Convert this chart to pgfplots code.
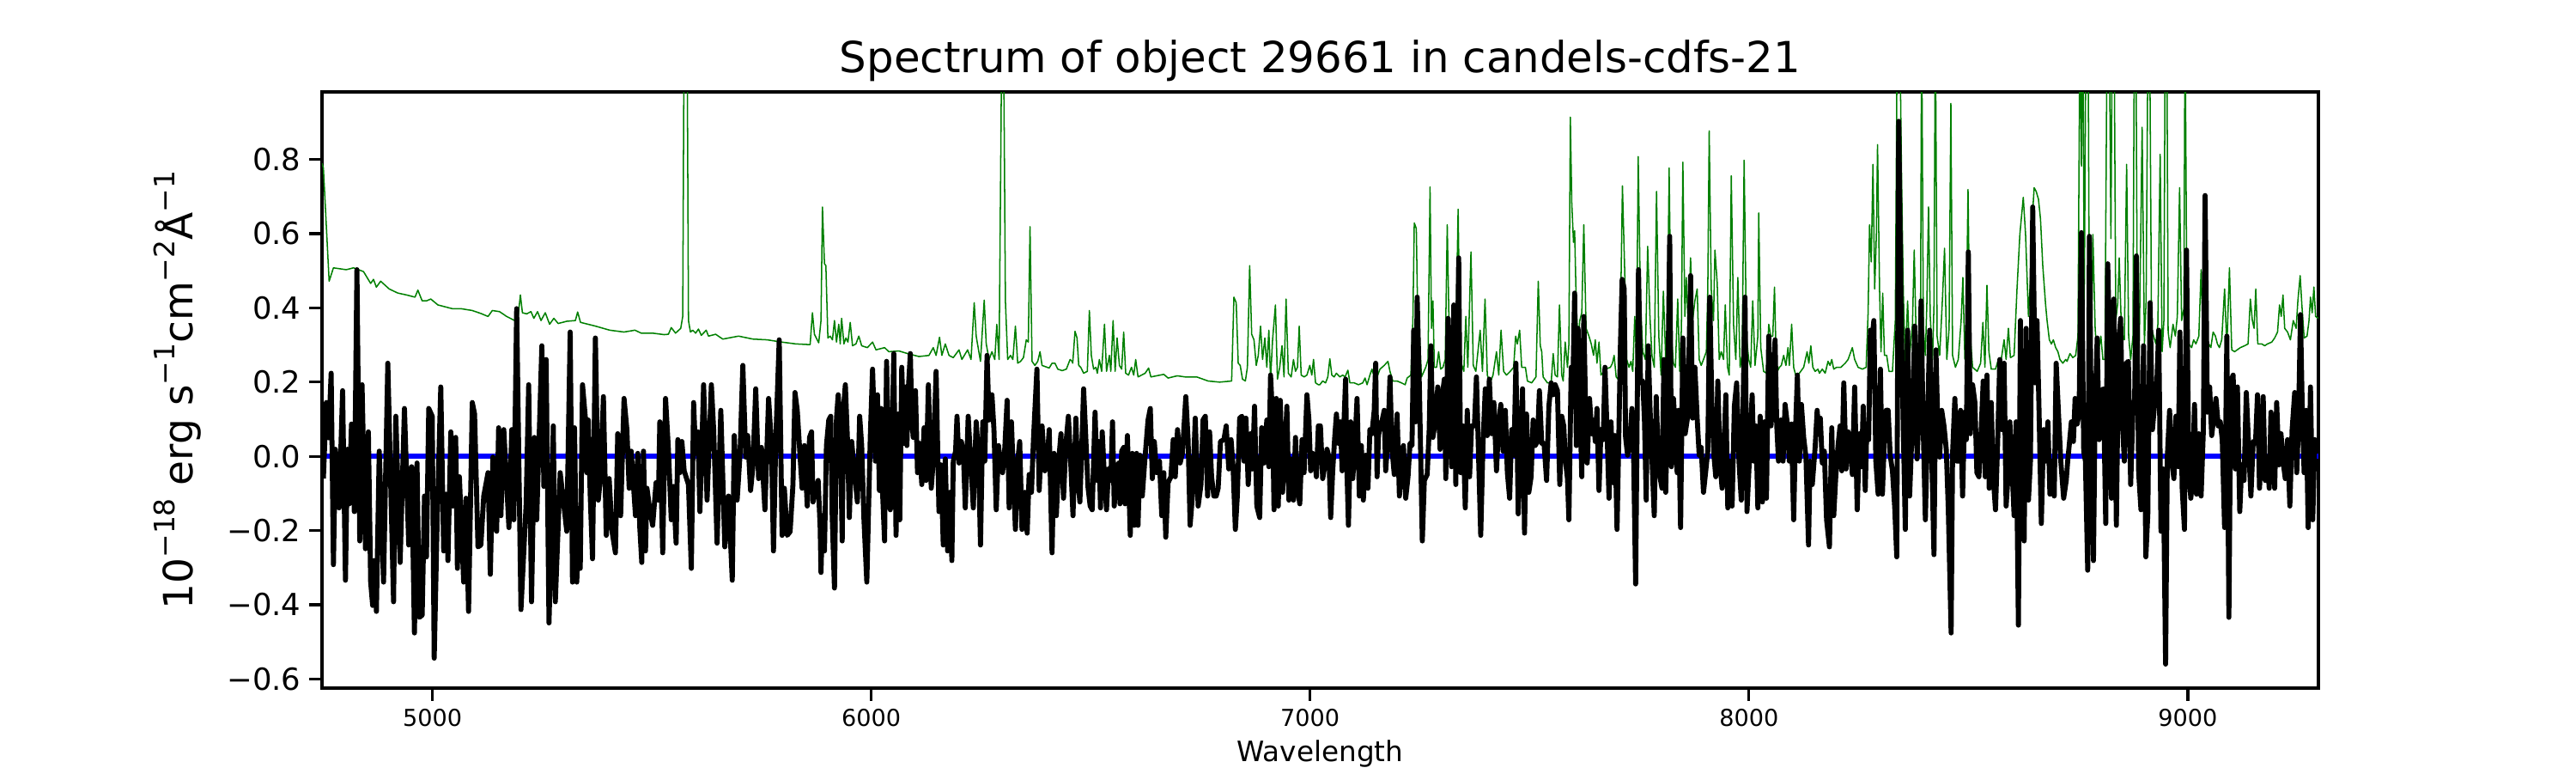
\documentclass[border=0pt]{standalone}
\usepackage{pgfplots}
\pgfplotsset{compat=1.18}
\usepackage{fontspec}
\setmainfont{DejaVu Sans}
\definecolor{mplgreen}{rgb}{0,0.5,0}
\newcommand{\sups}[1]{\raisebox{0.45em}{\fontsize{11.9}{12}\selectfont #1}}
\begin{document}
\begin{tikzpicture}
\useasboundingbox (-135.5pt,-35.8pt) rectangle (948.55pt,289.5pt);
\begin{axis}[
  at={(0,0)}, anchor=south west,
  scale only axis, width=840.1pt, height=250.8pt,
  xmin=4748.5, xmax=9297.5, ymin=-0.625, ymax=0.982,
  axis line style={line width=1.2pt},
  tick style={line width=1.2pt, black},
  major tick length=5.3pt, tick align=outside,
  xtick pos=bottom, ytick pos=left,
  xtick={5000,6000,7000,8000,9000},
  xticklabels={5000,6000,7000,8000,9000},
  ytick={-0.6,-0.4,-0.2,0,0.2,0.4,0.6,0.8},
  yticklabels={−0.6,−0.4,−0.2,0.0,0.2,0.4,0.6,0.8},
  xticklabel style={font=\fontsize{9.8}{11}\selectfont},
  yticklabel style={font=\fontsize{12.8}{14}\selectfont},
  title={Spectrum of object 29661 in candels-cdfs-21},
  every axis title/.style={at={(axis description cs:0.5,1)}, anchor=base, yshift=8.3pt, font=\fontsize{18}{21}\selectfont},
  xlabel={Wavelength},
  every axis x label/.style={at={(axis description cs:0.5,0)}, anchor=base, yshift=-31pt, font=\fontsize{11.8}{13}\selectfont},
  ylabel={10\sups{−18} erg s\sups{−1}cm\sups{−2}Å\sups{−1}},
  every axis y label/.style={at={(axis description cs:0,0.5)}, xshift=-60.7pt, rotate=90, anchor=center, font=\fontsize{17}{19}\selectfont},
]
\addplot[mplgreen, line width=0.55pt, line join=round] coordinates {
(4748.6,0.790)(4751.7,0.777)(4764.8,0.472)(4774.6,0.508)(4803.9,0.503)(4820.2,0.508)(4843.1,0.498)(4859.4,0.466)(4865.9,0.477)(4872.4,0.456)(4882.2,0.472)(4901.8,0.451)(4921.4,0.440)(4941.0,0.435)(4960.5,0.429)(4967.0,0.448)(4976.8,0.419)(4986.6,0.419)(4996.4,0.424)(5012.7,0.408)(5045.3,0.398)(5064.9,0.398)(5091.0,0.393)(5110.6,0.385)(5126.9,0.377)(5136.7,0.393)(5153.0,0.390)(5169.3,0.377)(5187.6,0.366)(5195.4,0.377)(5200.6,0.435)(5205.2,0.387)(5215.0,0.384)(5224.7,0.390)(5231.3,0.372)(5239.7,0.390)(5247.6,0.366)(5257.3,0.387)(5267.2,0.356)(5276.9,0.372)(5286.7,0.358)(5306.3,0.364)(5325.9,0.366)
(5331.1,0.389)(5337.6,0.361)(5371.5,0.351)(5404.2,0.340)(5436.8,0.335)(5461.6,0.340)(5475.9,0.332)(5502.0,0.332)(5528.1,0.328)(5537.9,0.329)(5544.4,0.347)(5554.2,0.332)(5566.0,0.345)(5570.5,0.377)(5573.8,1.2)(5580.3,1.2)(5583.6,0.366)(5588.1,0.335)(5593.4,0.340)(5599.9,0.332)(5606.4,0.343)(5612.9,0.326)(5624.0,0.340)(5629.2,0.324)(5645.5,0.329)(5661.9,0.316)(5697.7,0.324)(5730.4,0.316)(5763.0,0.314)(5795.6,0.308)(5828.2,0.303)(5860.8,0.301)(5866.1,0.387)(5870.6,0.329)(5880.4,0.306)(5885.6,0.366)(5888.9,0.672)
(5893.5,0.519)(5896.7,0.514)(5901.3,0.319)(5906.5,0.324)(5911.7,0.314)(5916.3,0.366)(5920.9,0.308)(5926.1,0.356)(5929.4,0.303)(5932.6,0.372)(5937.8,0.303)(5942.4,0.319)(5947.0,0.308)(5952.2,0.361)(5957.4,0.298)(5965.2,0.303)(5971.8,0.324)(5978.3,0.298)(5991.3,0.293)(6003.1,0.308)(6010.9,0.287)(6030.5,0.293)(6040.3,0.282)(6063.1,0.284)(6082.7,0.277)(6108.8,0.269)(6131.6,0.272)(6141.4,0.293)(6147.9,0.272)(6155.7,0.321)(6161.0,0.272)(6168.8,0.303)(6177.3,0.272)(6187.0,0.266)(6200.1,0.287)(6206.6,0.261)(6219.7,0.287)(6227.5,0.261)(6234.7,0.414)(6239.2,0.324)(6249.0,0.256)(6257.5,0.421)(6262.1,0.303)(6268.6,0.261)(6275.1,0.282)(6281.6,0.261)(6286.2,0.356)(6291.4,0.261)(6298.0,1.2)(6301.2,1.2)(6305.8,0.419)(6311.0,0.261)(6317.5,0.272)(6322.8,0.261)(6328.6,0.351)(6333.8,0.251)(6340.4,0.256)(6346.9,0.266)(6353.4,0.314)(6358.0,0.308)(6361.9,0.619)(6366.5,0.256)(6373.0,0.245)(6379.5,0.256)(6384.7,0.282)(6389.3,0.245)(6405.6,0.238)(6412.1,0.251)(6418.7,0.251)(6425.2,0.235)(6435.0,0.231)(6444.7,0.235)(6453.2,0.261)(6457.8,0.256)
(6459.2,0.251)(6464.4,0.337)(6469.0,0.319)(6472.9,0.245)(6477.5,0.240)(6484.0,0.224)(6492.5,0.229)(6497.1,0.393)(6501.6,0.272)(6506.8,0.235)(6512.1,0.240)(6515.3,0.224)(6519.9,0.261)(6525.1,0.229)(6531.6,0.356)(6536.2,0.229)(6542.7,0.272)(6546.0,0.229)(6551.2,0.366)(6555.8,0.229)(6560.3,0.319)(6565.6,0.245)(6570.8,0.235)(6575.3,0.335)(6579.9,0.224)(6586.4,0.219)(6593.0,0.240)(6598.2,0.219)(6602.7,0.261)(6608.0,0.214)(6624.3,0.224)(6632.1,0.238)(6637.3,0.214)(6666.7,0.221)(6676.5,0.211)(6697.3,0.217)(6715.6,0.214)(6741.7,0.214)(6767.8,0.203)(6793.9,0.200)(6821.3,0.203)(6826.5,0.429)(6831.7,0.414)(6836.3,0.251)(6840.9,0.245)(6846.1,0.208)(6852.6,0.203)(6857.2,0.240)(6862.4,0.514)(6867.0,0.329)(6872.2,0.314)(6877.4,0.245)(6882.0,0.272)(6887.2,0.351)(6891.8,0.261)(6897.0,0.319)(6901.5,0.240)(6906.1,0.340)(6910.0,0.208)(6914.6,0.314)(6921.1,0.408)(6925.7,0.208)(6930.9,0.240)(6936.1,0.298)(6940.7,0.214)(6945.3,0.424)(6950.5,0.224)(6957.0,0.214)(6962.2,0.261)(6966.8,0.229)(6971.3,0.240)(6975.3,0.351)(6979.8,0.219)(6986.4,0.214)(6992.9,0.219)(6999.4,0.245)(7004.0,0.219)(7007.9,0.261)(7012.5,0.198)(7019.0,0.193)
(7022.2,0.193)(7028.8,0.203)(7035.3,0.198)(7040.5,0.214)(7045.1,0.263)(7049.6,0.219)(7054.9,0.214)(7060.1,0.224)(7067.9,0.214)(7074.4,0.219)(7079.7,0.214)(7086.2,0.232)(7090.8,0.198)(7100.5,0.198)(7110.3,0.193)(7120.1,0.198)(7125.3,0.211)(7129.9,0.193)(7136.4,0.219)(7141.0,0.235)(7146.2,0.214)(7152.7,0.214)(7159.3,0.235)(7169.0,0.245)(7177.5,0.256)(7182.1,0.229)(7188.6,0.203)(7198.4,0.203)(7208.2,0.198)(7216.7,0.193)(7221.2,0.211)(7229.7,0.219)(7234.3,0.366)(7237.5,0.629)(7242.1,0.614)(7245.4,0.366)(7249.3,0.324)(7253.9,0.214)(7263.6,0.240)(7268.9,0.261)(7273.4,0.726)(7276.7,0.345)(7280.0,0.419)(7283.2,0.240)(7288.4,0.240)(7293.0,0.282)(7297.6,0.235)(7302.8,0.240)(7308.0,0.261)(7312.6,0.624)(7317.1,0.324)(7321.1,0.240)(7327.6,0.261)(7332.1,0.303)(7337.4,0.666)(7341.9,0.261)(7350.4,0.229)(7355.0,0.377)(7359.5,0.240)(7366.7,0.551)(7371.9,0.245)(7377.8,0.229)(7387.6,0.340)(7392.8,0.229)(7398.7,0.424)(7403.9,0.219)(7410.4,0.198)(7416.9,0.219)(7424.8,0.282)(7430.0,0.219)(7435.2,0.340)(7441.1,0.229)(7447.6,0.219)(7456.1,0.229)(7463.9,0.240)(7468.5,0.324)(7472.4,0.303)(7477.6,0.340)(7482.2,0.240)(7490.7,0.240)(7495.3,0.203)(7505.0,0.198)(7514.8,0.214)(7520.0,0.472)(7524.6,0.298)(7527.9,0.282)(7531.1,0.214)(7540.9,0.198)(7549.4,0.198)(7554.0,0.277)(7558.5,0.219)(7563.7,0.214)(7568.3,0.408)(7573.5,0.219)(7576.8,0.203)(7581.4,0.308)(7586.6,0.240)(7589.8,0.303)(7593.1,0.914)(7596.4,0.682)
(7600.3,0.577)(7602.9,0.608)(7606.8,0.398)(7610.7,0.314)(7614.6,0.366)(7619.2,0.387)(7623.8,0.624)(7629.0,0.345)(7635.5,0.324)(7640.7,0.303)(7646.0,0.272)(7649.9,0.314)(7653.8,0.251)(7658.4,0.308)(7662.9,0.219)(7673.4,0.235)(7684.4,0.240)(7689.0,0.251)(7692.9,0.272)(7697.5,0.214)(7702.1,0.208)(7707.3,0.366)(7711.8,0.729)(7717.1,0.493)(7721.6,0.261)(7726.9,0.240)(7731.4,0.256)(7735.3,0.229)(7739.9,0.377)(7743.8,0.261)(7747.7,0.808)(7753.0,0.408)(7758.2,0.282)(7764.0,0.261)(7769.3,0.566)(7774.5,0.377)(7779.0,0.272)(7784.3,0.240)(7789.5,0.714)(7794.7,0.324)(7799.9,0.219)(7805.1,0.445)(7810.4,0.261)(7813.6,0.277)(7818.2,0.777)(7822.8,0.335)(7828.0,0.251)(7832.5,0.240)(7837.8,0.424)(7842.3,0.229)(7846.2,0.345)(7849.5,0.793)(7854.1,0.377)(7857.3,0.482)(7861.9,0.345)(7867.1,0.535)(7871.7,0.366)(7876.9,0.419)(7882.1,0.451)(7886.7,0.261)(7891.3,0.245)(7896.5,0.261)(7903.0,0.282)(7906.3,0.451)(7909.5,0.877)(7914.1,0.451)(7919.3,0.366)(7922.6,0.556)(7927.8,0.466)(7932.4,0.261)(7936.9,0.282)(7942.2,0.261)(7946.1,0.408)(7951.3,0.240)(7955.2,0.219)(7959.8,0.756)(7965.0,0.356)(7970.2,0.261)(7974.8,0.482)(7980.0,0.240)(7984.6,0.272)(7989.1,0.798)(7994.3,0.324)(7999.6,0.261)(8004.1,0.240)(8008.7,0.419)(8013.9,0.245)(8020.4,0.324)(8022.4,0.656)(8027.0,0.293)(8033.5,0.229)(8040.0,0.224)(8045.2,0.356)(8049.8,0.324)(8054.4,0.324)(8058.3,0.456)(8062.8,0.224)(8069.4,0.240)(8073.9,0.245)(8079.2,0.272)(8084.4,0.245)(8089.0,0.293)(8092.2,0.245)(8097.4,0.356)(8102.0,0.240)(8106.5,0.219)(8115.0,0.224)(8124.8,0.240)(8132.6,0.282)(8136.6,0.251)(8141.1,0.298)(8145.7,0.240)(8150.9,0.229)(8157.4,0.235)
(8160.7,0.224)(8167.2,0.235)(8173.8,0.224)(8180.3,0.256)(8184.9,0.245)(8188.8,0.261)(8193.3,0.235)(8199.9,0.240)(8209.6,0.240)(8219.4,0.251)(8226.0,0.261)(8235.7,0.293)(8241.0,0.261)(8248.8,0.240)(8258.6,0.235)(8267.1,0.240)(8271.6,0.387)(8274.9,0.624)(8278.8,0.524)(8282.7,0.787)(8286.6,0.451)(8290.5,0.598)(8293.1,0.840)(8297.7,0.451)(8301.0,0.282)(8304.9,0.440)(8308.8,0.272)(8314.0,0.272)(8319.2,0.229)(8327.1,0.229)(8333.6,0.366)(8338.2,1.2)(8343.4,1.2)(8348.0,0.735)(8351.9,0.440)(8356.4,0.251)(8361.6,0.419)(8366.2,0.272)(8372.7,0.356)(8376.7,0.556)(8380.6,0.345)(8385.8,0.261)(8391.0,0.345)(8393.6,1.2)(8397.5,0.345)(8402.1,0.272)(8405.4,0.408)(8409.3,0.672)(8413.2,0.377)(8418.4,0.261)(8421.7,0.408)(8424.9,1.2)(8428.8,0.324)(8434.7,0.272)(8441.2,0.429)(8445.8,0.561)(8451.0,0.261)(8456.2,0.345)(8460.2,0.951)(8464.1,0.272)(8470.6,0.240)(8477.1,0.261)(8483.6,0.366)(8487.6,0.482)(8492.1,0.261)(8495.4,0.366)(8499.3,0.719)(8503.2,0.345)(8509.7,0.240)(8520.2,0.229)(8528.0,0.251)(8533.2,0.361)(8537.8,0.240)(8542.4,0.461)(8546.9,0.282)(8552.2,0.235)(8561.9,0.235)(8568.5,0.261)(8575.0,0.261)(8581.5,0.314)(8586.1,0.261)(8591.3,0.345)(8595.9,0.266)(8604.3,0.272)(8610.9,0.451)(8617.4,0.598)(8625.2,0.698)(8630.4,0.598)(8637.0,0.377)(8643.5,0.524)(8646.7,0.661)(8650.0,0.724)(8654.6,0.714)(8659.8,0.693)(8664.4,0.640)(8669.6,0.514)(8676.1,0.408)(8679.4,0.366)(8684.6,0.314)(8689.2,0.303)(8693.7,0.314)(8699.0,0.293)(8704.2,0.282)(8708.7,0.261)(8715.3,0.251)(8721.8,0.261)
(8725.0,0.256)(8731.6,0.277)(8738.1,0.266)(8744.6,0.272)(8749.8,0.324)(8754.4,1.2)(8757.7,0.782)(8760.9,1.2)(8764.2,0.408)(8768.1,1.2)(8772.7,1.2)(8775.9,0.335)(8780.5,0.261)(8783.8,0.598)(8789.0,0.345)(8793.6,0.261)(8798.1,0.293)(8802.0,0.324)(8806.6,0.261)(8811.2,0.261)(8816.4,1.2)(8821.0,1.2)(8824.9,0.587)(8828.1,1.2)(8832.0,1.2)(8836.0,0.366)(8840.5,0.414)(8843.8,0.535)(8849.0,0.335)(8855.5,0.314)(8860.7,0.787)(8865.3,0.324)(8869.9,0.261)(8875.1,0.324)(8878.4,1.2)(8881.6,1.2)(8884.9,0.408)(8889.5,0.293)(8896.0,0.887)(8901.2,0.303)(8905.1,0.419)(8909.7,1.2)(8912.9,1.2)(8917.5,0.345)(8922.1,0.324)(8927.3,0.303)(8931.9,0.356)(8937.1,0.814)(8941.6,0.282)(8945.6,0.366)(8948.8,1.2)(8952.1,1.2)(8955.3,0.335)(8959.9,0.293)(8966.4,0.356)(8971.7,0.324)(8976.2,0.377)(8981.4,0.724)(8986.0,0.366)(8991.2,0.398)(8993.8,1.2)(8997.1,0.566)(9002.3,0.303)(9008.8,0.293)(9013.4,0.314)(9018.6,0.303)(9025.2,0.324)(9030.4,0.503)(9034.9,0.314)(9041.5,0.293)(9048.0,0.303)(9052.6,0.293)(9057.8,0.335)(9063.0,0.324)(9067.6,0.303)(9072.1,0.293)(9077.4,0.314)(9083.9,0.451)(9089.1,0.293)(9095.0,0.508)(9100.2,0.287)(9106.7,0.282)(9119.8,0.293)(9129.5,0.298)(9137.4,0.303)(9142.6,0.424)(9147.2,0.366)(9151.1,0.345)(9155.0,0.451)(9159.5,0.303)(9168.7,0.303)(9175.2,0.298)(9181.7,0.303)(9191.5,0.308)(9198.0,0.319)(9204.6,0.335)(9209.1,0.408)(9213.0,0.377)(9217.0,0.435)(9220.9,0.345)(9227.4,0.335)(9233.9,0.314)(9240.4,0.366)(9247.0,0.345)(9250.9,0.419)(9256.1,0.487)(9260.0,0.408)(9265.2,0.319)(9271.8,0.324)(9276.3,0.366)(9279.6,0.429)(9283.5,0.387)(9287.4,0.456)(9291.3,0.377)(9297.2,0.372)
};
\addplot[blue, line width=2pt] coordinates {(4748.5,0) (9297.5,0)};
\addplot[black, line width=2.1pt, line join=round] coordinates {
(4751.7,-0.060)(4758.3,0.145)(4763.5,0.050)(4769.4,0.224)(4774.6,-0.292)(4779.1,0.019)(4787.6,-0.139)(4795.5,0.177)(4802.0,-0.334)(4806.5,0.019)(4810.5,-0.128)(4815.7,0.087)(4822.2,-0.149)(4828.1,0.503)(4834.6,-0.228)(4839.8,0.193)(4847.6,-0.249)(4854.2,0.066)(4859.4,-0.339)(4864.0,-0.402)(4867.2,-0.281)(4872.5,-0.418)(4879.0,0.014)(4888.8,-0.339)(4898.5,0.251)(4911.6,-0.392)(4916.8,0.108)(4926.6,-0.286)(4936.4,0.129)(4946.2,-0.239)(4952.7,-0.028)(4959.2,-0.476)(4965.1,-0.018)(4970.3,-0.434)(4976.8,-0.428)(4982.1,-0.107)(4986.6,-0.271)(4991.8,0.129)(4999.7,0.108)(5004.2,-0.544)(5011.4,-0.149)(5019.2,0.187)(5025.8,-0.255)(5031.0,-0.102)(5035.5,-0.281)(5042.1,0.066)(5046.6,-0.134)(5053.2,0.051)(5057.1,-0.302)(5061.6,-0.055)(5071.4,-0.339)(5076.7,-0.113)(5082.5,-0.418)(5091.0,0.145)(5096.2,0.114)(5104.0,-0.244)(5110.6,-0.239)(5117.1,-0.107)(5126.9,-0.044)(5132.1,-0.318)(5138.0,-0.002)(5146.5,-0.202)(5151.0,0.077)(5156.2,-0.160)(5162.8,0.072)(5174.5,-0.192)(5181.0,0.072)(5185.6,-0.171)(5192.1,0.398)(5201.9,-0.413)(5213.7,-0.128)(5219.5,0.193)(5226.0,-0.392)(5232.6,0.051)(5237.8,-0.171)(5249.5,0.298)(5254.1,-0.081)(5259.3,0.261)(5265.8,-0.449)(5270.4,-0.239)(5275.6,0.082)(5280.2,-0.392)(5291.3,-0.044)(5306.3,-0.202)(5314.1,0.335)(5319.3,-0.339)(5323.9,0.077)
(5329.1,-0.339)(5333.7,-0.160)(5337.0,-0.302)(5342.2,0.193)(5348.7,0.103)(5352.0,-0.044)(5355.2,0.098)(5359.8,-0.107)(5365.0,-0.276)(5371.5,0.319)(5378.1,-0.118)(5383.3,-0.055)(5389.8,0.161)(5396.3,-0.213)(5402.9,-0.060)(5409.4,-0.202)(5417.2,-0.260)(5422.4,0.061)(5429.0,-0.160)(5436.8,0.156)(5443.3,0.072)(5448.5,-0.086)(5453.1,0.014)(5462.9,-0.160)(5468.1,0.008)(5472.7,-0.192)(5477.2,-0.286)(5481.1,0.014)(5485.7,-0.255)(5489.0,-0.086)(5495.5,-0.144)(5502.0,-0.186)(5509.8,-0.071)(5515.1,-0.118)(5518.3,0.093)(5524.9,-0.260)(5531.4,0.156)(5537.9,0.019)(5544.4,-0.171)(5549.0,-0.081)(5555.5,-0.234)(5559.4,0.045)(5564.0,-0.044)(5568.6,0.040)(5573.8,-0.039)(5583.6,-0.076)(5590.1,-0.302)(5595.3,0.145)(5599.9,0.008)(5605.1,0.066)(5609.7,-0.149)(5618.1,0.193)(5626.0,-0.118)(5635.8,0.193)(5641.0,0.072)(5648.8,-0.234)(5657.3,0.124)(5666.4,-0.244)(5674.9,-0.107)(5683.4,-0.334)(5688.0,0.056)(5694.5,-0.118)(5701.0,0.003)(5707.5,0.245)(5714.1,-0.002)(5718.6,0.056)(5725.1,-0.092)(5730.4,-0.028)(5736.9,0.182)(5743.4,-0.060)(5749.9,0.024)(5757.8,-0.144)(5766.2,0.156)(5772.8,0.029)(5777.3,-0.255)(5782.6,0.045)(5790.4,0.314)(5796.9,-0.213)(5802.1,-0.086)(5808.6,-0.213)(5815.2,-0.203)(5821.7,-0.076)(5826.3,0.172)(5831.5,0.124)(5838.0,-0.002)(5842.6,-0.086)(5847.8,0.029)(5854.3,-0.134)(5859.5,0.051)(5864.1,0.066)(5867.4,-0.123)(5872.6,-0.092)(5879.1,-0.065)(5883.7,-0.192)(5885.6,-0.313)
(5888.9,-0.160)(5893.5,-0.255)(5898.0,0.029)(5903.3,0.098)(5907.8,0.108)(5911.1,-0.160)(5916.3,-0.355)(5920.9,0.103)(5924.8,0.166)(5929.4,0.072)(5933.9,-0.228)(5937.2,0.135)(5941.1,0.193)(5945.7,0.051)(5950.2,-0.165)(5955.5,0.040)(5962.0,-0.044)(5968.5,-0.123)(5973.7,0.108)(5978.3,0.029)(5983.5,-0.171)(5990.0,-0.339)(5997.9,0.051)(6003.1,0.235)(6009.6,-0.013)(6014.2,0.166)(6018.7,-0.092)(6022.6,0.129)(6025.9,-0.097)(6030.5,-0.228)(6035.0,0.256)(6040.3,-0.076)(6043.5,-0.144)(6046.8,-0.002)(6051.4,0.277)(6056.6,-0.213)(6061.1,0.114)(6065.1,-0.171)(6069.6,0.240)(6074.8,0.035)(6078.1,0.187)(6081.4,0.029)(6084.6,0.182)(6089.2,0.277)(6092.5,0.103)(6095.7,0.051)(6100.9,0.177)(6105.5,-0.044)(6110.1,0.035)(6115.3,-0.076)(6120.5,0.077)(6125.1,-0.065)(6130.3,0.193)(6136.8,-0.086)(6141.4,-0.013)(6147.9,0.229)(6154.4,-0.149)(6159.0,-0.023)(6164.2,-0.239)(6168.8,-0.007)(6174.0,-0.255)(6179.2,-0.097)(6183.8,-0.281)(6187.0,-0.013)(6192.3,0.014)(6195.5,0.108)(6200.1,-0.018)(6205.3,0.040)(6209.9,0.014)(6214.4,-0.139)(6221.0,0.108)(6226.2,-0.002)(6232.7,-0.139)(6239.2,0.093)(6244.5,0.003)(6249.0,-0.239)(6254.2,0.093)(6258.8,-0.013)(6264.0,0.272)(6268.6,0.098)(6275.1,0.166)(6279.7,0.072)(6284.9,-0.144)(6290.1,0.029)(6294.7,-0.028)(6299.3,-0.044)(6304.5,0.024)(6309.7,0.151)(6314.3,-0.139)(6319.5,0.093)(6324.1,-0.055)(6328.6,-0.197)(6333.8,-0.013)(6338.4,0.040)(6343.6,-0.197)(6350.2,-0.097)(6355.4,-0.207)(6359.9,-0.049)(6365.2,-0.097)(6369.7,0.045)(6377.6,0.235)(6382.8,-0.092)(6389.3,0.082)(6395.8,-0.039)(6401.0,-0.013)(6405.6,0.072)(6412.1,-0.260)(6416.7,0.008)(6421.9,-0.160)(6427.1,-0.013)(6432.4,0.061)(6438.2,-0.113)(6443.4,0.029)(6449.3,0.108)(6454.5,-0.013)(6459.8,-0.160)
(6466.4,0.103)(6471.0,-0.065)(6475.5,-0.123)(6479.4,0.008)(6484.0,0.182)(6488.6,0.061)(6493.8,-0.081)(6499.0,-0.134)(6503.6,-0.144)(6510.1,0.119)(6514.7,-0.065)(6518.6,0.040)(6522.5,-0.139)(6526.4,0.066)(6531.6,-0.060)(6536.2,-0.144)(6540.8,-0.034)(6546.0,-0.065)(6549.9,0.093)(6553.8,-0.134)(6559.0,-0.039)(6564.2,-0.018)(6566.9,-0.128)(6570.8,0.014)(6575.3,0.024)(6578.6,-0.128)(6583.8,0.056)(6590.3,-0.213)(6594.9,0.008)(6599.5,-0.186)(6604.7,0.008)(6608.0,-0.186)(6612.5,0.003)(6617.7,-0.107)(6623.0,-0.018)(6630.8,0.098)(6636.0,0.129)(6640.6,-0.060)(6645.1,0.040)(6650.4,-0.044)(6656.9,-0.013)(6662.1,-0.160)(6666.7,-0.044)(6671.2,-0.218)(6676.5,-0.071)(6683.0,-0.055)(6688.2,0.045)(6692.8,-0.055)(6698.0,0.072)(6703.9,-0.018)(6709.1,0.008)(6716.9,0.161)(6722.1,0.045)(6726.7,-0.186)(6731.9,-0.107)(6738.4,0.103)(6745.0,-0.134)(6751.5,-0.076)(6756.1,0.098)(6761.3,0.108)(6766.5,-0.107)(6771.1,0.066)(6775.6,-0.055)(6780.8,-0.107)(6786.1,-0.107)(6790.6,-0.086)(6795.9,0.040)(6803.7,0.045)(6808.9,0.082)(6814.8,-0.034)(6820.0,0.045)(6824.6,-0.028)(6829.8,-0.197)(6834.3,-0.107)(6839.6,0.103)(6844.8,0.108)(6849.4,-0.013)(6853.9,0.103)(6859.1,-0.076)(6864.4,0.061)(6868.9,-0.034)(6873.5,0.135)(6878.7,-0.134)(6885.2,-0.165)(6889.8,0.077)(6895.0,-0.018)(6901.5,0.098)(6906.1,-0.028)(6910.0,0.219)(6914.6,0.103)(6917.9,-0.144)(6923.1,0.156)(6927.6,-0.134)(6932.2,0.151)(6937.4,-0.097)(6942.6,0.014)(6947.2,0.135)(6951.8,-0.118)(6957.0,-0.007)(6962.2,-0.118)(6966.8,0.051)(6971.3,-0.086)(6976.6,-0.128)(6981.8,0.045)(6986.4,-0.044)(6992.9,0.166)(6997.4,0.098)(7001.4,-0.039)(7005.9,0.008)(7010.5,-0.007)(7014.4,-0.055)(7019.0,0.082)
(7023.6,0.082)(7028.8,-0.060)(7033.3,-0.028)(7038.6,0.019)(7043.1,-0.002)(7047.0,-0.165)(7051.6,-0.039)(7056.2,0.051)(7060.1,0.114)(7064.7,0.035)(7069.2,0.093)(7073.1,-0.039)(7077.7,0.103)(7081.0,0.208)(7084.2,-0.044)(7087.5,-0.186)(7092.7,0.093)(7097.3,-0.060)(7101.8,0.024)(7107.1,0.156)(7112.3,-0.107)(7116.8,0.029)(7121.4,-0.118)(7126.6,0.003)(7131.9,-0.086)(7136.4,0.072)(7141.0,0.061)(7146.2,0.124)(7149.5,0.251)(7152.7,-0.055)(7156.0,0.056)(7160.6,0.087)(7164.5,0.098)(7169.0,0.124)(7172.3,-0.039)(7177.5,0.051)(7182.1,0.214)(7186.7,0.019)(7191.9,-0.049)(7198.4,0.114)(7203.6,-0.107)(7208.2,-0.034)(7212.8,0.029)(7218.0,-0.113)(7223.2,-0.055)(7227.8,0.035)(7232.3,0.029)(7236.2,0.340)(7240.8,0.093)(7244.1,0.429)(7249.3,0.177)(7255.8,-0.228)(7260.4,-0.065)(7266.9,-0.049)(7271.5,0.072)(7275.4,0.298)(7279.9,0.051)(7286.5,0.103)(7291.0,0.187)(7296.3,0.019)(7301.5,0.166)(7306.0,0.208)(7309.3,-0.060)(7314.5,0.372)(7319.1,0.114)(7322.4,-0.028)(7327.6,0.408)(7332.1,-0.076)(7338.7,0.535)(7343.2,-0.044)(7348.4,0.082)(7353.7,-0.139)(7358.2,0.124)(7363.5,-0.055)(7368.0,0.082)(7374.5,0.082)(7379.1,0.214)(7384.3,-0.013)(7388.9,-0.213)(7394.1,0.035)(7399.3,0.182)(7403.9,0.056)(7408.5,0.208)(7413.7,0.061)(7418.9,0.145)(7424.8,-0.039)(7430.0,0.093)(7434.6,0.140)(7439.8,0.014)(7445.0,0.124)(7449.6,-0.044)(7454.8,-0.113)(7459.4,0.072)(7464.6,0.003)(7469.1,0.251)(7474.4,-0.155)(7478.9,0.014)(7484.2,0.182)(7488.7,-0.207)(7493.3,0.114)(7498.5,-0.097)(7503.7,-0.055)(7508.3,0.098)(7512.9,0.029)(7518.1,0.040)(7522.6,0.177)(7527.9,0.035)(7533.1,0.035)(7539.0,-0.065)(7544.2,0.135)(7549.4,0.198)(7554.0,0.166)(7558.5,0.193)(7563.7,0.177)(7569.0,-0.076)(7573.5,0.108)(7578.1,0.082)(7582.0,-0.013)(7586.6,-0.060)(7589.8,-0.171)(7595.1,0.240)
(7598.3,0.156)(7602.9,0.440)(7606.8,0.029)(7610.7,0.345)(7614.6,0.156)(7619.2,-0.055)(7623.8,0.377)(7627.7,0.135)(7631.6,-0.018)(7636.8,0.156)(7642.0,0.061)(7646.0,0.098)(7649.9,0.040)(7653.8,0.129)(7658.4,-0.092)(7662.9,0.072)(7668.1,0.045)(7672.1,0.240)(7676.6,0.072)(7681.2,-0.113)(7685.8,0.093)(7690.3,-0.071)(7694.9,0.056)(7699.5,-0.197)(7704.0,0.082)(7707.3,0.303)(7711.2,0.477)(7715.8,0.451)(7719.0,0.051)(7723.6,0.003)(7728.2,0.035)(7733.4,0.129)(7737.3,0.003)(7741.9,-0.344)(7748.4,0.503)(7753.0,0.198)(7758.2,0.203)(7762.1,0.093)(7766.0,-0.118)(7770.6,0.298)(7774.5,0.135)(7779.0,-0.002)(7784.3,-0.160)(7788.8,0.161)(7793.4,-0.002)(7797.3,-0.055)(7801.9,-0.086)(7806.4,0.261)(7810.4,-0.097)(7814.9,0.156)(7819.5,0.593)(7823.4,-0.028)(7828.0,0.156)(7832.5,0.072)(7836.5,-0.044)(7839.7,0.124)(7844.3,-0.192)(7849.5,0.319)(7854.7,0.061)(7860.6,0.108)(7867.1,0.487)(7871.7,0.103)(7876.9,0.240)(7882.1,0.103)(7886.7,0.003)(7891.3,0.024)(7896.5,-0.097)(7901.7,-0.039)(7906.3,0.014)(7910.8,0.429)(7916.0,0.114)(7920.6,-0.002)(7924.5,-0.055)(7929.1,0.203)(7934.3,-0.018)(7938.9,-0.086)(7943.5,0.029)(7947.4,0.166)(7951.9,-0.139)(7956.5,-0.013)(7961.7,-0.134)(7966.9,0.135)(7972.1,0.198)(7977.4,-0.013)(7982.6,-0.118)(7986.5,0.124)(7991.1,0.429)(7995.6,-0.149)(8000.9,-0.013)(8007.4,0.166)(8011.3,-0.013)(8015.9,0.082)(8020.4,-0.139)(8025.7,0.108)(8030.9,-0.123)(8035.4,0.093)(8040.0,-0.113)(8045.2,0.324)(8050.4,0.082)(8054.4,0.156)(8059.6,0.314)(8063.5,0.082)(8067.4,-0.013)(8072.6,0.098)(8077.8,-0.013)(8082.4,0.140)(8087.0,0.093)(8092.2,-0.013)(8096.8,0.087)(8102.0,-0.171)(8106.5,0.082)(8110.5,0.219)(8115.0,-0.013)(8119.6,0.140)(8124.8,0.051)(8130.0,-0.002)(8135.9,-0.239)(8139.2,-0.013)(8144.4,-0.076)(8150.9,0.024)(8155.5,0.124)
(8158.8,0.072)(8162.7,0.103)(8167.2,-0.018)(8171.8,0.014)(8177.0,-0.171)(8183.5,-0.244)(8188.8,0.077)(8193.3,-0.160)(8197.9,-0.055)(8203.1,0.029)(8207.7,0.082)(8211.6,-0.039)(8216.2,0.198)(8221.4,-0.034)(8226.0,0.066)(8230.5,0.045)(8235.7,-0.049)(8241.0,0.187)(8246.8,-0.144)(8252.0,0.061)(8256.6,-0.028)(8260.5,0.135)(8265.1,-0.092)(8268.4,0.066)(8272.9,0.045)(8276.8,0.340)(8281.4,0.324)(8284.7,0.366)(8289.2,-0.013)(8294.5,-0.102)(8299.7,0.235)(8304.2,-0.102)(8308.8,0.051)(8312.7,0.124)(8317.3,0.124)(8321.9,0.003)(8327.1,-0.039)(8332.3,-0.139)(8336.9,-0.271)(8341.4,0.903)(8346.6,0.398)(8351.9,0.072)(8356.4,-0.197)(8361.6,0.340)(8366.2,-0.107)(8372.7,0.103)(8377.9,0.351)(8383.2,-0.007)(8387.7,0.114)(8392.3,0.419)(8396.9,0.093)(8402.1,-0.171)(8406.7,0.072)(8411.9,0.340)(8416.5,0.008)(8421.7,-0.265)(8426.2,0.287)(8430.2,0.093)(8434.7,-0.002)(8439.3,0.124)(8444.5,0.082)(8449.7,0.019)(8454.3,-0.139)(8460.8,-0.476)(8464.1,0.008)(8469.3,0.156)(8473.9,-0.013)(8478.4,-0.013)(8482.3,0.124)(8486.9,-0.107)(8491.5,0.119)(8495.4,0.045)(8500.0,0.551)(8504.5,0.061)(8509.7,0.193)(8515.0,0.145)(8519.5,-0.044)(8524.1,-0.055)(8529.3,0.072)(8533.9,0.203)(8538.5,-0.055)(8542.4,0.219)(8547.6,-0.086)(8552.2,0.145)(8556.7,-0.055)(8561.9,-0.144)(8566.5,0.024)(8571.7,0.261)(8576.3,0.072)(8581.5,0.251)(8586.1,-0.134)(8591.3,-0.039)(8594.6,0.093)(8599.1,-0.018)(8604.3,-0.160)(8608.9,0.093)(8614.1,-0.455)(8618.7,0.366)(8622.6,-0.055)(8627.2,-0.228)(8631.7,0.345)(8637.0,-0.118)(8641.5,-0.013)(8646.7,0.672)(8652.0,0.198)(8656.5,0.366)(8661.1,0.124)(8666.3,-0.181)(8671.5,0.072)(8676.1,-0.013)(8681.3,0.093)(8685.9,-0.102)(8690.4,-0.013)(8695.7,-0.107)(8700.2,0.251)(8705.5,0.114)(8710.7,-0.013)(8717.2,-0.113)(8723.1,-0.065)
(8726.4,-0.013)(8730.3,0.035)(8734.8,0.093)(8739.4,0.040)(8743.3,0.156)(8747.9,0.087)(8752.4,0.114)(8757.7,0.603)(8762.9,0.014)(8766.8,-0.013)(8772.0,-0.307)(8775.9,0.593)(8781.2,-0.055)(8785.1,-0.281)(8789.0,0.135)(8793.6,0.319)(8798.1,0.045)(8803.3,0.177)(8807.9,0.182)(8813.1,-0.181)(8817.7,0.519)(8821.6,0.303)(8826.2,-0.113)(8831.4,0.424)(8837.3,-0.186)(8842.5,0.303)(8847.0,0.372)(8851.6,0.077)(8855.5,-0.013)(8860.1,0.251)(8864.7,0.256)(8869.9,-0.076)(8875.1,0.124)(8879.0,0.156)(8882.9,0.540)(8888.1,-0.044)(8893.4,-0.144)(8899.2,0.298)(8904.5,-0.271)(8909.0,-0.155)(8914.2,0.414)(8919.5,0.072)(8924.0,0.135)(8929.2,0.187)(8933.8,0.340)(8939.0,-0.202)(8944.3,-0.034)(8949.5,-0.560)(8953.4,-0.002)(8958.6,0.124)(8963.2,-0.013)(8968.4,-0.060)(8973.0,0.108)(8978.2,-0.028)(8982.1,0.335)(8987.3,-0.086)(8992.5,-0.197)(8997.1,0.556)(9002.3,-0.034)(9006.9,-0.113)(9010.8,-0.065)(9015.4,0.140)(9019.9,-0.102)(9025.2,0.061)(9030.4,-0.107)(9035.6,0.072)(9039.5,0.703)(9044.7,0.119)(9049.9,0.187)(9054.5,0.056)(9059.1,0.103)(9064.3,0.156)(9069.5,0.082)(9074.1,0.093)(9078.6,0.045)(9083.9,-0.192)(9089.1,0.324)(9093.7,-0.434)(9098.2,0.203)(9103.4,0.219)(9108.7,-0.034)(9113.2,0.187)(9118.5,-0.149)(9123.0,-0.023)(9128.2,-0.065)(9133.4,0.172)(9138.7,0.029)(9143.9,-0.107)(9149.1,0.040)(9154.3,0.035)(9158.9,0.166)(9163.5,-0.086)(9167.4,0.014)(9171.9,0.161)(9176.5,-0.065)(9181.7,-0.013)(9185.6,-0.086)(9189.6,0.119)(9193.5,0.061)(9198.0,-0.086)(9202.6,0.145)(9207.8,-0.023)(9212.4,0.061)(9217.6,-0.018)(9222.2,-0.060)(9227.4,0.045)(9232.6,-0.134)(9237.8,0.072)(9243.7,0.172)(9248.3,-0.044)(9252.2,0.082)(9256.8,0.382)(9261.3,0.103)(9265.2,-0.044)(9269.8,0.124)(9274.4,-0.192)(9279.6,0.187)(9284.8,-0.171)(9289.4,0.045)(9294.0,0.029)(9297.2,0.008)
};
\end{axis}
\end{tikzpicture}
\end{document}
